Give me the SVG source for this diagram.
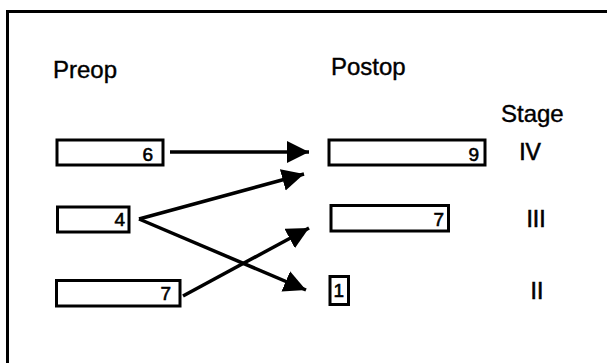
<svg xmlns="http://www.w3.org/2000/svg" width="607" height="363" viewBox="0 0 607 363">
<style>
.box{fill:#fff;stroke:#000;stroke-width:3}
.lbl{font-family:"Liberation Sans",Arial,sans-serif;font-size:24px;fill:#000;stroke:#000;stroke-width:0.4}
.num{font-family:"Liberation Sans",Arial,sans-serif;font-size:19px;fill:#000;stroke:#000;stroke-width:0.6;text-anchor:end}
.stg{font-family:"Liberation Sans",Arial,sans-serif;font-size:23px;fill:#000;stroke:#000;stroke-width:0.6;text-anchor:middle}
.con{stroke:#000;stroke-width:3.5;fill:none;marker-end:url(#ah)}
</style>
<defs>
<marker id="ah" markerUnits="userSpaceOnUse" markerWidth="24" markerHeight="24" refX="22" refY="11" orient="auto">
<path d="M0,0 L22,11 L0,22 Z" fill="#000"/>
</marker>
</defs>
<rect width="607" height="363" fill="#fff"/>
<path d="M7.5,363 V11.5 H607" fill="none" stroke="#000" stroke-width="3"/>
<text class="lbl" x="53" y="78">Preop</text>
<text class="lbl" x="331" y="75">Postop</text>
<text class="lbl" x="501" y="122">Stage</text>
<g id="pre6"><rect class="box" x="57" y="140" width="106" height="25"/><text class="num" x="153" y="161">6</text></g>
<g id="pre4"><rect class="box" x="57.5" y="207" width="71.5" height="25"/><text class="num" x="125" y="226">4</text></g>
<g id="pre7"><rect class="box" x="56.5" y="280.5" width="123.5" height="25.5"/><text class="num" x="171" y="300">7</text></g>
<g id="post9"><rect class="box" x="329" y="140" width="156" height="25"/><text class="num" x="479" y="161">9</text></g>
<g id="post7"><rect class="box" x="331" y="205.5" width="117.5" height="25.5"/><text class="num" x="444" y="226">7</text></g>
<g id="post1"><rect class="box" x="330" y="276.5" width="18.5" height="28"/><text class="num" x="344" y="297">1</text></g>
<g id="stageIV"><text class="stg" x="530" y="160">IV</text></g>
<g id="stageIII"><text class="stg" x="536" y="227">III</text></g>
<g id="stageII"><text class="stg" x="537" y="299">II</text></g>
<g id="connectors">
<line class="con" x1="170" y1="152" x2="309" y2="152"/>
<line class="con" x1="139" y1="219" x2="304" y2="174"/>
<line class="con" x1="139" y1="219" x2="306" y2="290"/>
<line class="con" x1="183" y1="296" x2="309" y2="228"/>
</g>
</svg>
